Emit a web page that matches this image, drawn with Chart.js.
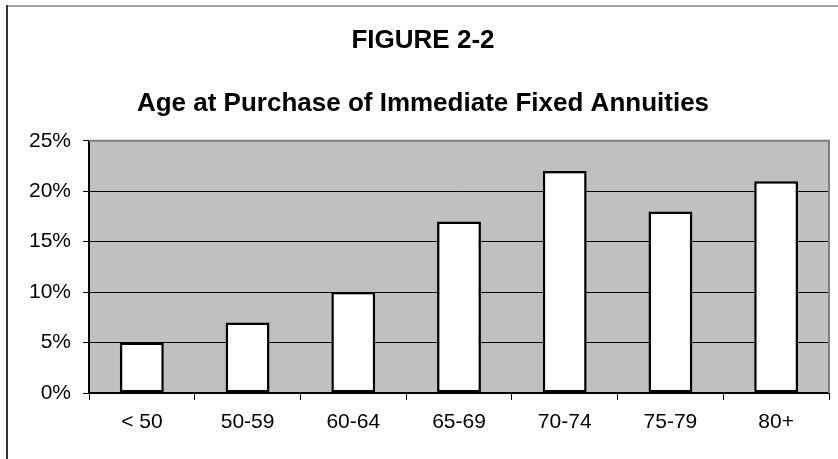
<!DOCTYPE html>
<html>
<head>
<meta charset="utf-8">
<title>Age at Purchase of Immediate Fixed Annuities</title>
<script src="https://cdn.jsdelivr.net/npm/chart.js@4.4.1/dist/chart.umd.min.js"></script>
<style>
  html, body { margin: 0; padding: 0; background: #fff; }
  canvas { display: block; }
</style>
</head>
<body>
<canvas id="chart" width="838" height="459"></canvas>
<script>
// Age bands and share of purchases (%)
const ageBands = ['< 50', '50-59', '60-64', '65-69', '70-74', '75-79', '80+'];
const purchaseShare = [5, 7, 10, 17, 22, 18, 21];
const yTicks = [0, 5, 10, 15, 20, 25];

const FONT = '"Liberation Sans", Arial, sans-serif';

// Grey plot background, plot frame and the outer figure frame
const plotDecor = {
  id: 'plotDecor',
  beforeDraw(chart) {
    const { ctx, chartArea: a } = chart;
    ctx.save();
    ctx.fillStyle = '#C0C0C0';
    ctx.fillRect(a.left, a.top, a.right - a.left, a.bottom - a.top);
    // figure frame: left and top edges
    ctx.strokeStyle = '#A0A0A0';
    ctx.lineWidth = 2;
    ctx.beginPath();
    ctx.moveTo(6, 6);
    ctx.lineTo(chart.width, 6);
    ctx.stroke();
    ctx.strokeStyle = '#333333';
    ctx.beginPath();
    ctx.moveTo(7, 5);
    ctx.lineTo(7, chart.height);
    ctx.stroke();
    ctx.restore();
  },
  beforeDatasetsDraw(chart) {
    const { ctx, chartArea: a } = chart;
    ctx.save();
    ctx.strokeStyle = '#808080';
    ctx.lineWidth = 2;
    ctx.beginPath();
    ctx.moveTo(a.left, a.top);
    ctx.lineTo(a.right, a.top);
    ctx.lineTo(a.right, a.bottom);
    ctx.stroke();
    ctx.restore();
  }
};

new Chart(document.getElementById('chart'), {
  type: 'bar',
  data: {
    labels: ageBands,
    datasets: [{
      data: purchaseShare,
      backgroundColor: '#FFFFFF',
      borderColor: '#000000',
      borderWidth: 2.5,
      borderSkipped: false,
      barPercentage: 0.415,
      categoryPercentage: 1
    }]
  },
  options: {
    responsive: false,
    animation: false,
    layout: { padding: { left: 17, right: 9, top: 0, bottom: 0 } },
    plugins: {
      legend: { display: false },
      tooltip: { enabled: false },
      title: {
        display: true,
        text: 'FIGURE 2-2',
        color: '#000',
        font: { family: FONT, size: 26, weight: 'bold', lineHeight: 1.2 },
        padding: { top: 25, bottom: 32 }
      },
      subtitle: {
        display: true,
        text: 'Age at Purchase of Immediate Fixed Annuities',
        color: '#000',
        font: { family: FONT, size: 26, weight: 'bold', lineHeight: 1.2 },
        padding: { top: 0, bottom: 21.4 }
      }
    },
    scales: {
      x: {
        offset: true,
        grid: {
          offset: true,
          drawOnChartArea: false,
          drawTicks: true,
          tickLength: 7,
          color: '#000',
          lineWidth: 1
        },
        border: { display: true, color: '#000', width: 2 },
        ticks: {
          color: '#000',
          padding: 10,
          maxRotation: 0,
          autoSkip: false,
          font: { family: FONT, size: 21 }
        },
        afterFit(axis) { axis.height = 66; }
      },
      y: {
        min: 0,
        max: 25,
        afterBuildTicks(axis) { axis.ticks = yTicks.map(v => ({ value: v })); },
        grid: {
          color: c => (c.tick && c.tick.value === 25) ? 'rgba(0,0,0,0)' : '#000',
          tickColor: '#000',
          lineWidth: 1,
          drawTicks: true,
          tickLength: 6
        },
        border: { display: true, color: '#000', width: 2 },
        ticks: {
          color: '#000',
          padding: 12,
          font: { family: FONT, size: 21 },
          callback: v => v + '%'
        },
        afterFit(axis) { axis.width = 72; }
      }
    }
  },
  plugins: [plotDecor]
});
</script>
</body>
</html>
